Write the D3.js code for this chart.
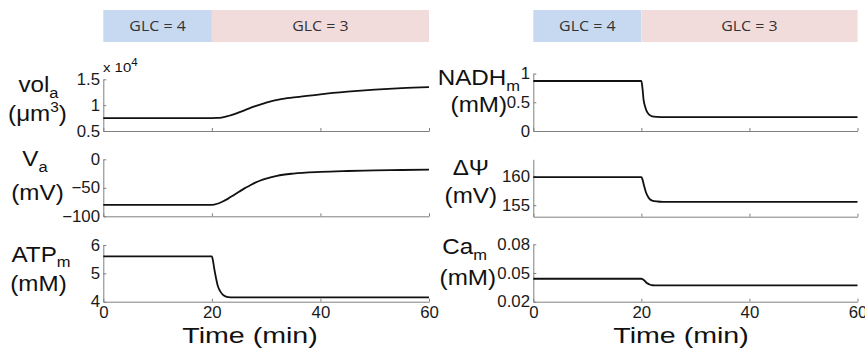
<!DOCTYPE html>
<html><head><meta charset="utf-8">
<script src="https://cdn.jsdelivr.net/npm/d3@7"></script>
<style>body{margin:0;background:#fff}svg{display:block}</style>
</head><body>
<svg id="c" width="865" height="348"></svg>
<script>
// ---------- data ----------
const phaseLabels = ["GLC = 4", "GLC = 3"];
const phaseStart = [0, 20];
const phaseEnd = [20, 60];
const xTicks = [0, 20, 40, 60];

const tVol = [0, 20, 21, 22, 23, 24, 25, 26, 28, 30, 33, 36, 40, 45, 50, 55, 60];
const volA = [0.75, 0.75, 0.752, 0.765, 0.79, 0.82, 0.86, 0.90, 0.98, 1.05, 1.12, 1.16, 1.21, 1.26, 1.30, 1.33, 1.35];
const volTicks = [0.5, 1, 1.5];

const tVa = [0, 20, 21, 22, 23, 24, 25, 26, 27, 28, 30, 32, 35, 40, 45, 50, 55, 60];
const vA = [-80, -80, -78, -74, -69, -63, -57, -51, -46, -41, -34, -29, -25, -22, -20.5, -19.5, -18.8, -18];
const vaTicks = [-100, -50, 0];

const tAtp = [0, 20, 20.2, 20.5, 20.8, 21.1, 21.5, 22, 22.5, 23, 24, 60];
const atpM = [5.6, 5.6, 5.45, 5.1, 4.8, 4.55, 4.38, 4.25, 4.19, 4.165, 4.155, 4.15];
const atpTicks = [4, 5, 6];

const tNadh = [0, 20, 20.2, 20.4, 20.7, 21, 21.5, 22, 23, 24, 60];
const nadhM = [0.87, 0.87, 0.75, 0.55, 0.42, 0.34, 0.28, 0.255, 0.245, 0.24, 0.24];
const nadhTicks = [0, 0.5, 1];

const tPsi = [0, 20, 20.2, 20.5, 20.8, 21.1, 21.5, 22, 23, 24, 60];
const dPsi = [159.9, 159.9, 159.5, 158.4, 157.4, 156.7, 156.1, 155.8, 155.65, 155.6, 155.6];
const psiTicks = [155, 160];

const tCa = [0, 20, 20.5, 21, 21.5, 22, 23, 60];
const caM = [0.044, 0.044, 0.0425, 0.0395, 0.038, 0.0372, 0.037, 0.037];
const caTicks = [0.02, 0.05, 0.08];

// ---------- drawing ----------
const svg = d3.select("#c");
const FONT = "'Liberation Sans', Arial, Helvetica, sans-serif";
const AXIS_COL = "#808080";
const TICK_FS = 16, TICK_SX = 1.05;
const LAB_FS = 22, LAB_SX = 1.1;

const LEFT_X = [103.3, 429];
const RIGHT_X = [533.3, 857.5];

function stretchText(cx, cy, sx, fs, parts, anchor, family, fill) {
  const t = svg.append("text")
    .attr("transform", `translate(${cx},${cy}) scale(${sx},1)`)
    .attr("text-anchor", anchor || "middle")
    .attr("font-family", family || FONT)
    .attr("font-size", fs)
    .attr("fill", fill || "#111");
  parts.forEach(p => {
    const s = t.append("tspan").text(p.text);
    if (p.fs) s.attr("font-size", p.fs);
    if (p.dy) s.attr("dy", p.dy);
  });
  return t;
}

function panel(cfg) {
  const x = d3.scaleLinear().domain([0, 60]).range(cfg.xr);
  const y = d3.scaleLinear().domain(cfg.domain).range(cfg.yr);
  const g = svg.append("g");

  const xa = g.append("g").attr("transform", `translate(0,${cfg.yr[0]})`)
    .call(d3.axisBottom(x).tickValues(xTicks).tickSizeInner(-3).tickSizeOuter(0)
      .tickPadding(5.2).tickFormat(cfg.xLabels ? d3.format("d") : () => ""));
  const ya = g.append("g").attr("transform", `translate(${cfg.xr[0]},0)`)
    .call(d3.axisLeft(y).tickValues(cfg.ticks).tickSizeInner(-3).tickSizeOuter(0)
      .tickPadding(3.3).tickFormat(cfg.fmt));

  [xa, ya].forEach(a => {
    a.select(".domain").attr("stroke", AXIS_COL).attr("stroke-width", 1);
    a.selectAll(".tick line").attr("stroke", AXIS_COL);
    a.selectAll(".tick text").attr("font-family", FONT).attr("font-size", TICK_FS)
      .attr("fill", "#1a1a1a");
  });
  xa.selectAll(".tick text").attr("transform", `scale(${TICK_SX},1)`);
  ya.selectAll(".tick text").attr("x", -3.3 / TICK_SX).attr("transform", `scale(${TICK_SX},1)`);

  const data = cfg.t.map((t, i) => [t, cfg.v[i]]);
  g.append("path").datum(data)
    .attr("fill", "none").attr("stroke", "#111").attr("stroke-width", 1.8)
    .attr("d", d3.line().x(d => x(d[0])).y(d => y(d[1])).curve(d3.curveMonotoneX));
  return x;
}

// headers
function header(xr) {
  const x = d3.scaleLinear().domain([0, 60]).range(xr);
  const cols = ["#c6d9f0", "#f2dcdb"];
  phaseLabels.forEach((lab, i) => {
    svg.append("rect").attr("x", x(phaseStart[i])).attr("y", 10)
      .attr("width", x(phaseEnd[i]) - x(phaseStart[i])).attr("height", 32)
      .attr("fill", cols[i]);
    stretchText((x(phaseStart[i]) + x(phaseEnd[i])) / 2, 31, 1.1, 14.5,
      [{ text: lab }], "middle", "'Open Sans', 'Noto Sans', sans-serif", "#333");
  });
}
header(LEFT_X);
header(RIGHT_X);

const fmtPlain = d => String(d).replace("-", "\u2212");
panel({ xr: LEFT_X, yr: [131, 79.3], domain: [0.5, 1.5], ticks: volTicks, fmt: fmtPlain, t: tVol, v: volA });
panel({ xr: LEFT_X, yr: [216.3, 159.3], domain: [-100, 0], ticks: vaTicks, fmt: fmtPlain, t: tVa, v: vA });
panel({ xr: LEFT_X, yr: [301.7, 245], domain: [4, 6], ticks: atpTicks, fmt: fmtPlain, t: tAtp, v: atpM, xLabels: true });
panel({ xr: RIGHT_X, yr: [131, 73.5], domain: [0, 1], ticks: nadhTicks, fmt: fmtPlain, t: tNadh, v: nadhM });
panel({ xr: RIGHT_X, yr: [216.7, 159.3], domain: [153, 163], ticks: psiTicks, fmt: fmtPlain, t: tPsi, v: dPsi });
panel({ xr: RIGHT_X, yr: [301.7, 244.3], domain: [0.02, 0.08], ticks: caTicks, fmt: d3.format(".2f"), t: tCa, v: caM, xLabels: true });

// x 10^4 multiplier
stretchText(103, 72, 1.15, 13, [{ text: "x 10" }, { text: "4", fs: 10, dy: -6 }], "start");

// y labels left
stretchText(38.5, 92, LAB_SX, LAB_FS, [{ text: "vol" }, { text: "a", fs: 15, dy: 6 }]);
stretchText(37.5, 121, LAB_SX, LAB_FS, [{ text: "(\u03bcm" }, { text: "3", fs: 14, dy: -9 }, { text: ")", dy: 9 }]);
stretchText(35, 166, LAB_SX, LAB_FS, [{ text: "V" }, { text: "a", fs: 15, dy: 6 }]);
stretchText(37.5, 200, LAB_SX, LAB_FS, [{ text: "(mV)" }]);
stretchText(41, 262, LAB_SX, LAB_FS, [{ text: "ATP" }, { text: "m", fs: 15, dy: 4.5 }]);
stretchText(38.5, 291, LAB_SX, LAB_FS, [{ text: "(mM)" }]);

// y labels right (right-aligned against the tick labels)
stretchText(520, 85, LAB_SX, LAB_FS, [{ text: "NADH" }, { text: "m", fs: 15, dy: 6 }], "end");
stretchText(507, 112, LAB_SX, LAB_FS, [{ text: "(mM)" }], "end");
stretchText(489, 175, LAB_SX, LAB_FS, [{ text: "\u0394\u03a8" }], "end");
stretchText(497, 203, LAB_SX, LAB_FS, [{ text: "(mV)" }], "end");
stretchText(487, 254, LAB_SX, LAB_FS, [{ text: "Ca" }, { text: "m", fs: 15, dy: 6 }], "end");
stretchText(496, 285, LAB_SX, LAB_FS, [{ text: "(mM)" }], "end");

// x axis titles
stretchText(250, 343, 1.3, 22, [{ text: "Time (min)" }]);
stretchText(681, 343, 1.3, 22, [{ text: "Time (min)" }]);
</script>
</body></html>
